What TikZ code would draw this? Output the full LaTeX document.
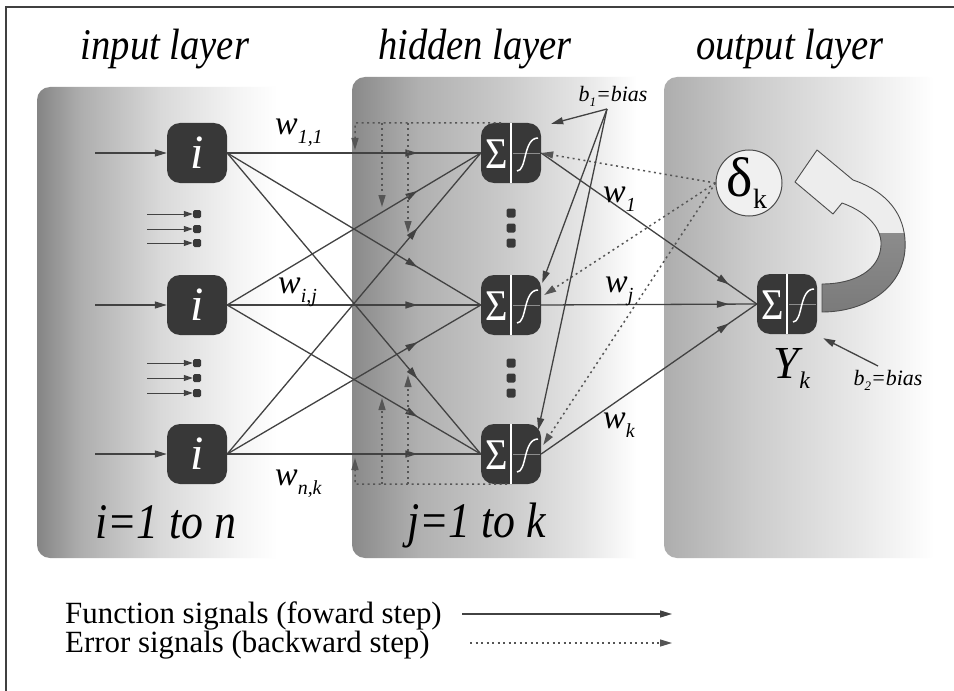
\documentclass[tikz,border=0pt]{standalone}
\usepackage{fontspec}
\setmainfont{Liberation Serif}
\newfontfamily\ttlfont[FakeStretch=0.88]{Liberation Serif}
\usetikzlibrary{arrows.meta,decorations.markings,calc}
\definecolor{nodegray}{HTML}{383838}
\definecolor{linegray}{HTML}{424242}
\definecolor{dotgray}{HTML}{555555}
\pgfdeclarehorizontalshading{panelin}{100bp}{color(0bp)=(black!48); color(25bp)=(black!48); color(32bp)=(black!32); color(45bp)=(black!15); color(58bp)=(black!4); color(64bp)=(white); color(100bp)=(white)}
\pgfdeclarehorizontalshading{panelhid}{100bp}{color(0bp)=(black!46); color(25bp)=(black!46); color(36bp)=(black!31); color(50bp)=(black!21); color(63bp)=(black!10); color(72bp)=(white); color(100bp)=(white)}
\pgfdeclarehorizontalshading{panelout}{100bp}{color(0bp)=(black!32); color(25bp)=(black!32); color(41bp)=(black!20); color(60bp)=(black!9); color(74bp)=(white); color(100bp)=(white)}
\newcommand{\wl}[1]{{\fontsize{34}{34}\selectfont\itshape w}\raisebox{-9bp}{\fontsize{20}{20}\selectfont\itshape #1}}
\newcommand{\sigmabox}[3]{%
  \node[nodebox] (#1) at (#2,#3) {};
  \draw[white, line width=1.6bp] (#1.north) -- (#1.south);
  \node[white, font=\ttlfont\fontsize{44}{44}\selectfont, inner sep=0pt] at ($(#1.center)+(-14.5,1)$) {Σ};
  \draw[black!45, line width=0.8bp] ($(#1.center)+(2,0)$) -- ($(#1.center)+(29,0)$);
  \draw[white, line width=1.5bp] ($(#1.center)+(6,18)$) .. controls ($(#1.center)+(16,18)$) and ($(#1.center)+(12,-15)$) .. ($(#1.center)+(27,-15)$);
}
\tikzset{
  mytri/.tip={Triangle[length=12bp,width=7bp]},
  nodebox/.style={fill=nodegray, rounded corners=13bp, minimum size=60bp, inner sep=0pt},
  sqbox/.style={fill=nodegray, rounded corners=1.5bp, minimum size=9bp, inner sep=0pt},
  fwd/.style={draw=linegray, line width=1.3bp},
  bwd/.style={draw=dotgray, line width=1.5bp, dash pattern=on 2bp off 3.5bp},
  midarrow/.style={postaction={decorate}, decoration={markings, mark=at position #1 with {\arrow[linegray]{mytri}}}},
  ttl/.style={font=\ttlfont\itshape\fontsize{44}{44}\selectfont, anchor=base, inner sep=0pt},
}
\begin{document}
\begin{tikzpicture}[x=1bp,y=-1bp]
\fill[white] (0,0) rectangle (954,691);
\useasboundingbox (0,0) rectangle (954,691);
\draw[black!75, line width=1.5bp] (6,691) -- (6,7) -- (954,7);

% panels
\shade[shading=panelin, rounded corners=13bp] (37,87) rectangle (345,558);
\shade[shading=panelhid, rounded corners=13bp] (352,77) rectangle (655,558);
\shade[shading=panelout, rounded corners=13bp] (664,77) rectangle (940,558);

% titles
\node[ttl] (t1) at (165,60) {input layer};
\node[ttl] (t2) at (475,60) {hidden layer};
\node[ttl] (t3) at (790,60) {output layer};
\node[font=\ttlfont\itshape\fontsize{50}{50}\selectfont, anchor=base west, inner sep=0pt] (rng1) at (95,538) {i=1 to n};
\node[font=\ttlfont\itshape\fontsize{50}{50}\selectfont, anchor=base west, inner sep=0pt] (rng2) at (407,537) {j=1 to k};

% input nodes
\foreach \n/\y in {i1/153, i2/305, i3/454}{
  \node[nodebox, text=white, font=\fontsize{48}{48}\selectfont\itshape] (\n) at (197,\y) {i};
  \coordinate (\n src) at (95,\y);
  \draw[fwd, -mytri] (\n src) -- (\n.west);
}
% small input squares
\foreach \n/\y in {s1/214, s2/229, s3/243, s4/363, s5/378, s6/393}{
  \node[sqbox, minimum size=8bp] (\n) at (197,\y) {};
  \coordinate (\n src) at (147,\y);
  \draw[linegray, line width=1bp, -{Triangle[length=9bp,width=6bp]}] (\n src) -- (\n.west);
}

% hidden nodes
\sigmabox{h1}{511}{153}
\sigmabox{h2}{511}{305}
\sigmabox{h3}{511}{454}
\foreach \n/\y in {d1/213, d2/228, d3/243, d4/363, d5/378, d6/393}{
  \node[sqbox] (\n) at (511,\y) {};
}

% output node
\sigmabox{out}{787}{304}

% delta circle
\node[circle, draw=black!70, fill=black!6, line width=1bp, minimum size=66bp, inner sep=0pt] (dk) at (749,183) {\hspace{-4bp}{\fontsize{56}{56}\selectfont δ}\raisebox{-12bp}{\fontsize{28}{28}\selectfont k}};

% big curved arrow
\fill[black!7] (822,312) .. controls (868,312) and (908,285) .. (905,240) .. controls (903,208) and (880,189) .. (853,180) -- (817,150) -- (795,182) -- (833,214) -- (842,203) .. controls (862,210) and (882,225) .. (881,245) .. controls (880,270) and (855,284) .. (822,284) -- cycle;
\begin{scope}
\clip (800,233) rectangle (930,320);
\shade[top color=black!38, bottom color=black!52] (822,312) .. controls (868,312) and (908,285) .. (905,240) .. controls (903,208) and (880,189) .. (853,180) -- (817,150) -- (795,182) -- (833,214) -- (842,203) .. controls (862,210) and (882,225) .. (881,245) .. controls (880,270) and (855,284) .. (822,284) -- cycle;
\end{scope}
\draw[black!70, line width=0.9bp, line join=round] (822,312) .. controls (868,312) and (908,285) .. (905,240) .. controls (903,208) and (880,189) .. (853,180) -- (817,150) -- (795,182) -- (833,214) -- (842,203) .. controls (862,210) and (882,225) .. (881,245) .. controls (880,270) and (855,284) .. (822,284) -- cycle;

% forward connections
\foreach \a in {i1,i2,i3}{
  \foreach \b in {h1,h2,h3}{
    \draw[fwd, midarrow=0.75] (\a.east) -- (\b.west);
  }
}
\foreach \b in {h1,h2,h3}{
  \draw[fwd, midarrow=0.87] (\b.east) -- (out.west);
}

% weight labels
\node[anchor=base west, inner sep=0pt] (w11) at (275,135) {\wl{1,1}};
\node[anchor=base west, inner sep=0pt] (wij) at (278,293) {\wl{i,j}};
\node[anchor=base west, inner sep=0pt] (wnk) at (275,485) {\wl{n,k}};
\node[anchor=base west, inner sep=0pt] (w1) at (603,202) {\wl{1}};
\node[anchor=base west, inner sep=0pt] (wj) at (605,292) {\wl{j}};
\node[anchor=base west, inner sep=0pt] (wk) at (603,428) {\wl{k}};

% error signals from delta
\draw[bwd, -mytri] (dk.west) -- (h1.east);
\draw[bwd, -mytri] (dk.west) -- ([yshift=10bp, xshift=3bp]h2.east);
\draw[bwd, -mytri] (dk.west) -- ([yshift=9bp, xshift=2bp]h3.east);

% back-propagation dotted paths (top)
\coordinate (ta) at ([xshift=-10bp]h1.north);
\coordinate (tb) at (355,123);
\coordinate (tb1) at (355,150);
\coordinate (tc) at (382,123);
\coordinate (tc1) at (382,207);
\coordinate (td) at (408,123);
\coordinate (td1) at (408,233);
\draw[bwd, -mytri] (ta) -- (tb) -- (tb1);
\draw[bwd, -mytri] (tc) -- (tc1);
\draw[bwd, -mytri] (td) -- (td1);
% bottom
\coordinate (ba) at ([xshift=-4bp]h3.south);
\coordinate (bb) at (355,484);
\coordinate (bb1) at (355,458);
\coordinate (bc) at (382,484);
\coordinate (bc1) at (382,398);
\coordinate (bd) at (408,484);
\coordinate (bd1) at (408,375);
\draw[bwd, -mytri] (ba) -- (bb) -- (bb1);
\draw[bwd, -mytri] (bc) -- (bc1);
\draw[bwd, -mytri] (bd) -- (bd1);

% bias 1
\node[font=\fontsize{22}{22}\selectfont\itshape, inner sep=0pt] (b1lab) at (613,96) {b\raisebox{-5bp}{\fontsize{13}{13}\selectfont 1}=bias};
\coordinate (b1) at (607,109);
\draw[fwd, -mytri] (b1) -- ([xshift=10bp, yshift=-1bp]h1.north east);
\draw[fwd, -mytri] (b1) -- ([yshift=22bp, xshift=1bp]h2.east);
\draw[fwd, -mytri] (b1) -- ([xshift=-3bp, yshift=24bp]h3.east);

% bias 2 and Y_k
\node[font=\fontsize{22}{22}\selectfont\itshape, inner sep=0pt] (b2lab) at (888,380) {b\raisebox{-5bp}{\fontsize{13}{13}\selectfont 2}=bias};
\coordinate (b2) at (878,366);
\draw[fwd, -mytri] (b2) -- ([xshift=6bp, yshift=-4bp]out.south east);
\node[inner sep=0pt] (yk) at (792,368) {{\fontsize{46}{46}\selectfont\itshape Y}\raisebox{-10bp}{\fontsize{24}{24}\selectfont\itshape k}};

% legend
\node[anchor=base west, inner sep=0pt, font=\fontsize{31}{31}\selectfont] (lg1) at (65,623) {Function signals (foward step)};
\node[anchor=base west, inner sep=0pt, font=\fontsize{31}{31}\selectfont] (lg2) at (65,652) {Error signals (backward step)};
\coordinate (la1) at (462,614);
\coordinate (la2) at (672,614);
\coordinate (lb1) at (470,643);
\coordinate (lb2) at (672,643);
\draw[fwd, -mytri] (la1) -- (la2);
\draw[bwd, line width=1.2bp, -mytri] (lb1) -- (lb2);
\end{tikzpicture}
\end{document}
